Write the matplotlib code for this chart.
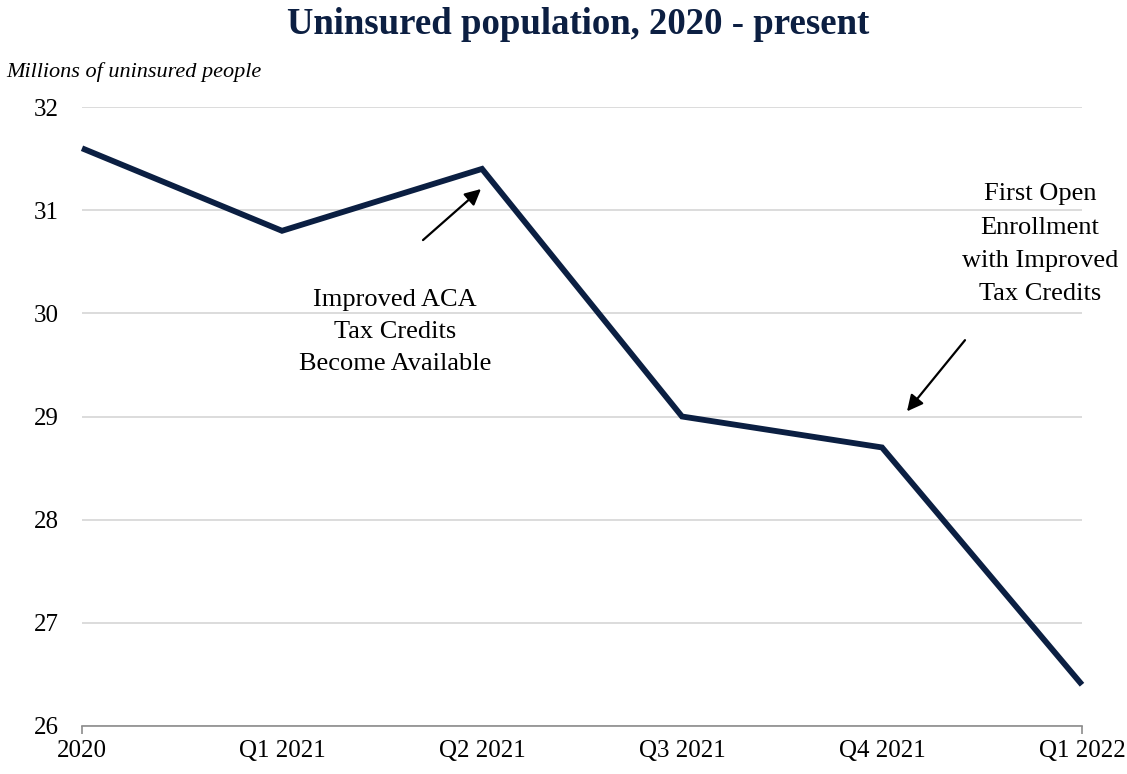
import matplotlib
matplotlib.use("Agg")
import matplotlib.pyplot as plt

categories = ["2020", "Q1 2021", "Q2 2021", "Q3 2021", "Q4 2021", "Q1 2022"]
uninsured = [31.6, 30.8, 31.4, 29.0, 28.7, 26.4]
y_ticks = [26, 27, 28, 29, 30, 31, 32]

plt.rcParams['font.family'] = ['Liberation Serif', 'DejaVu Serif']

fig = plt.figure(figsize=(11.27, 7.74), dpi=100)
ax = fig.add_axes([82/1127, 1-726/774, 1000/1127, 619/774])

x = list(range(len(categories)))
ax.plot(x, uninsured, color="#0b1f42", linewidth=4.2, solid_joinstyle="miter",
        solid_capstyle="butt", zorder=3, clip_on=False)

ax.set_xlim(0, len(categories) - 1)
ax.set_ylim(26, 32)
ax.set_yticks(y_ticks)
ax.set_yticklabels([str(v) for v in y_ticks], fontsize=18)
ax.set_xticks(x)
ax.set_xticklabels(categories, fontsize=18)
ax.tick_params(axis='x', length=0, pad=10)
ax.tick_params(axis='y', length=0, pad=17)
ax.xaxis.remove_overlapping_locs = False
ax.set_xticks([0, len(categories) - 1], minor=True)
ax.tick_params(axis='x', which='minor', length=6, width=1.2, color="#8c8c8c", direction='out')

ax.grid(axis='y', color="#d9d9d9", linewidth=1.3)
ax.set_axisbelow(True)
for s in ["top", "right", "left"]:
    ax.spines[s].set_visible(False)
ax.spines["bottom"].set_color("#8c8c8c")
ax.spines["bottom"].set_linewidth(1.2)
ax.spines["bottom"].set_zorder(2)

fig.text(578/1127, 1-25/774, "Uninsured population, 2020 - present", ha="center", va="center",
         fontsize=26.5, fontweight="bold", color="#0c1f42")
fig.text(6/1127, 1-72/774, "Millions of uninsured people", ha="left", va="center",
         fontsize=16, style="italic")

ax.text(1.565, 29.82, "Improved ACA\nTax Credits\nBecome Available", ha="center", va="center",
        fontsize=19, linespacing=1.6)
ax.annotate("", xy=(1.995, 31.205), xytext=(1.705, 30.71),
            arrowprops=dict(arrowstyle="-|>", color="black", lw=1.6, mutation_scale=24,
                            shrinkA=0, shrinkB=0))

ax.text(4.79, 30.67, "First Open\nEnrollment\nwith Improved\nTax Credits", ha="center", va="center",
        fontsize=19, linespacing=1.66)
ax.annotate("", xy=(4.125, 29.05), xytext=(4.415, 29.74),
            arrowprops=dict(arrowstyle="-|>", color="black", lw=1.6, mutation_scale=24,
                            shrinkA=0, shrinkB=0))

fig.savefig("out.png", dpi=100)
